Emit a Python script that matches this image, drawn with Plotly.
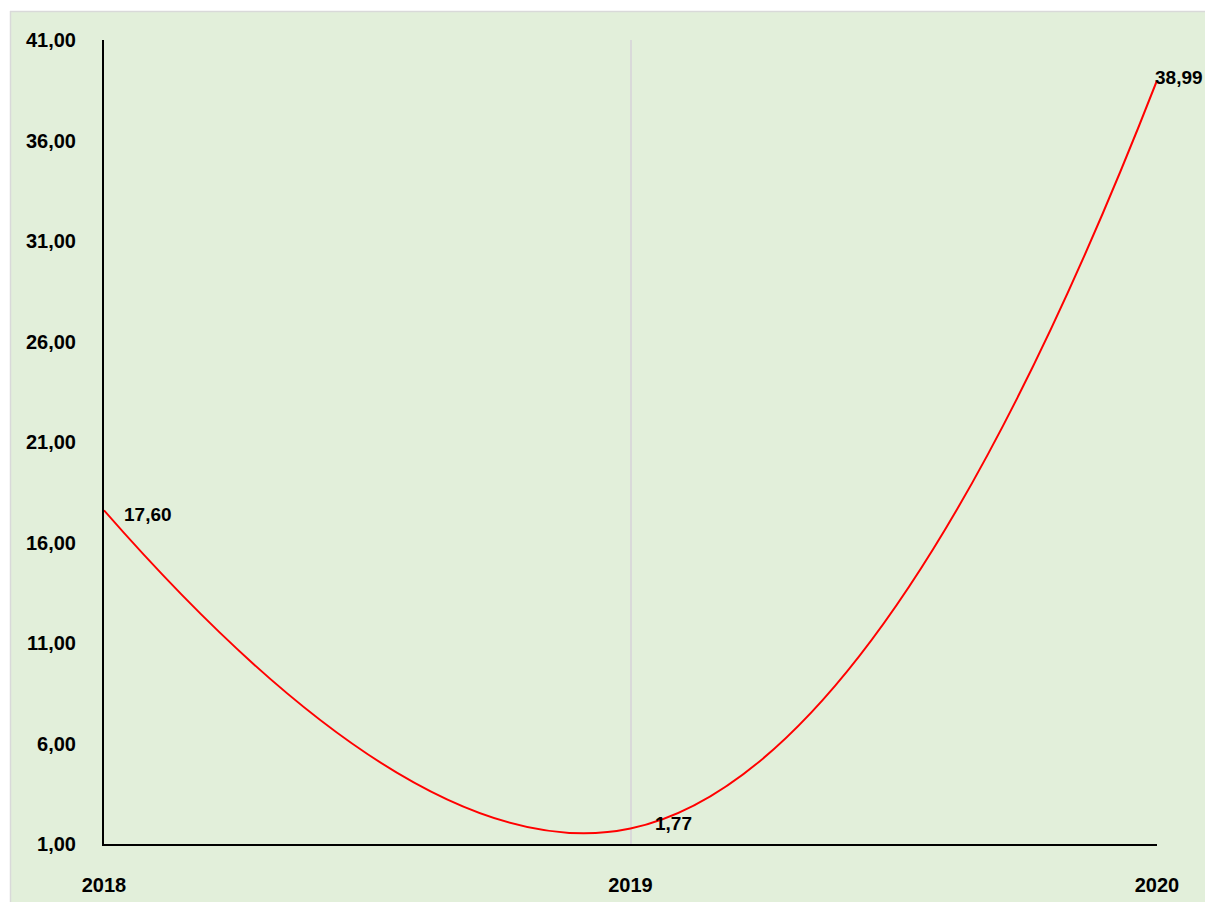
import plotly.graph_objects as go

years = ["2018", "2019", "2020"]
values = [17.60, 1.77, 38.99]
y_ticks = [1, 6, 11, 16, 21, 26, 31, 36, 41]

W, H = 1205, 902
ml, mr, mt, mb = 104, 48, 40, 58
pw, ph = W - ml - mr, H - mt - mb

FAM = "Liberation Sans, Arial, sans-serif"
font = dict(family=FAM, size=20, color="black")


def px_x(p):
    return (p - ml) / pw


def px_y(p):
    return (mt + ph - p) / ph


fig = go.Figure()
fig.add_trace(go.Scatter(
    x=list(range(len(years))), y=values,
    mode="lines",
    line=dict(color="#FF0000", width=2, shape="spline", smoothing=1.3),
    hoverinfo="skip",
))

# data labels
label_shift = [(18, -4), (22, 5), (-4, 3)]
for i, v in enumerate(values):
    fig.add_annotation(
        x=i, y=v, xref="x", yref="y",
        text=f"{v:.2f}".replace(".", ","),
        showarrow=False, xanchor="left", yanchor="middle",
        xshift=label_shift[i][0], yshift=label_shift[i][1],
        font=dict(family=FAM, size=19, color="black", weight="bold"),
    )

# white page strips (top and left) and the chart-area border
fig.add_shape(type="rect", xref="paper", yref="paper",
              x0=px_x(-5), x1=px_x(10), y0=px_y(H + 5), y1=px_y(-5),
              fillcolor="white", line=dict(width=0), layer="below")
fig.add_shape(type="rect", xref="paper", yref="paper",
              x0=px_x(-5), x1=px_x(W + 5), y0=px_y(11), y1=px_y(-5),
              fillcolor="white", line=dict(width=0), layer="below")
fig.add_shape(type="line", xref="paper", yref="paper",
              x0=px_x(10), x1=px_x(W + 5), y0=px_y(11.5), y1=px_y(11.5),
              line=dict(color="#D9D9D9", width=1.5), layer="below")
fig.add_shape(type="line", xref="paper", yref="paper",
              x0=px_x(10.5), x1=px_x(10.5), y0=px_y(11), y1=px_y(H + 5),
              line=dict(color="#D9D9D9", width=1.5), layer="below")

fig.update_layout(
    width=W, height=H,
    margin=dict(l=ml, r=mr, t=mt, b=mb, pad=0, autoexpand=False),
    paper_bgcolor="#E2EFDA",
    plot_bgcolor="rgba(0,0,0,0)",
    separators=",.",
    showlegend=False,
    font=font,
)
fig.update_xaxes(
    range=[0, 2], tickvals=list(range(len(years))), ticktext=years,
    showgrid=True, gridcolor="#D9D9D9", gridwidth=1.5,
    showline=True, linecolor="black", linewidth=2,
    zeroline=False, ticks="", ticklabelstandoff=22, automargin=False,
    tickfont=dict(family=FAM, size=20, color="black", weight="bold"),
)
fig.update_yaxes(
    range=[1, 41], tickvals=y_ticks, tickformat=".2f",
    showgrid=False, showline=True, linecolor="black", linewidth=2,
    zeroline=False, ticks="", ticklabelstandoff=22, automargin=False,
    tickfont=dict(family=FAM, size=20, color="black", weight="bold"),
)

fig.write_html(
    "out.html",
    config={"displayModeBar": False},
    post_script="document.body.style.margin='0';document.body.style.overflow='hidden';",
)
